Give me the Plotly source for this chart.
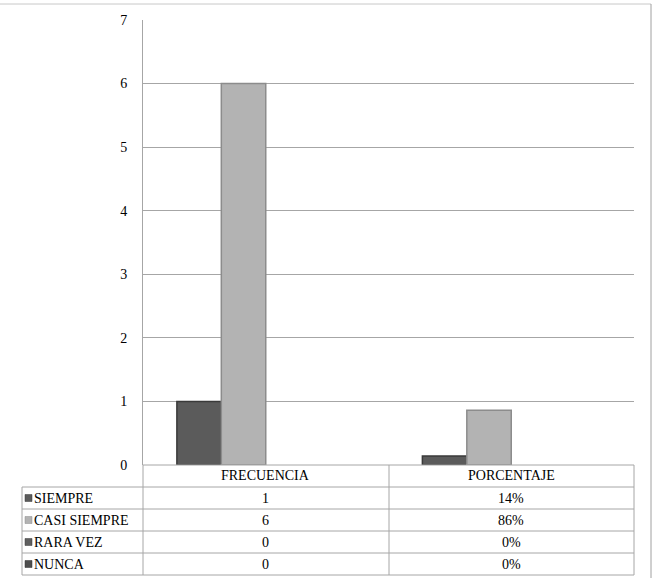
import plotly.graph_objects as go

categories = ["FRECUENCIA", "PORCENTAJE"]
series_names = ["SIEMPRE", "CASI SIEMPRE", "RARA VEZ", "NUNCA"]
frecuencia = [1, 6, 0, 0]
porcentaje = [0.14, 0.86, 0.0, 0.0]
table_frec = ["1", "6", "0", "0"]
table_pct = ["14%", "86%", "0%", "0%"]
y_ticks = [0, 1, 2, 3, 4, 5, 6, 7]

fill_colors = ["#5b5b5b", "#b3b3b3", "#5e5e5e", "#4d4d4d"]
edge_colors = ["#3a3a3a", "#8c8c8c", "#3a3a3a", "#333333"]

W, H = 655, 578
L, R, T, B = 143, 21, 20, 113
pw = W - L - R
ph = H - T - B

def px_x(x):
    return (x - L) / pw

def px_y(y):
    return (H - B - y) / ph

fig = go.Figure()
for i, name in enumerate(series_names):
    vals = [frecuencia[i], porcentaje[i]]
    fig.add_trace(go.Bar(
        x=categories,
        y=vals,
        name=name,
        marker=dict(color=fill_colors[i],
                    line=dict(color=edge_colors[i], width=[1.5 if v > 0 else 0 for v in vals])),
        showlegend=False,
    ))

FAM = "'Times New Roman', 'Liberation Serif', 'DejaVu Serif', serif"
font = dict(family=FAM, size=14, color="#000000")
shapes = []
annotations = []
grid_col = "#a6a6a6"

row_tops = [465, 487, 509, 531, 553, 575]
x_left, x_mid, x_right = 22, 389, 634
for k, yy in enumerate(row_tops):
    x0 = L if k == 0 else x_left
    shapes.append(dict(type="line", xref="paper", yref="paper",
                       x0=px_x(x0), x1=px_x(x_right), y0=px_y(yy), y1=px_y(yy),
                       line=dict(color=grid_col, width=1)))
shapes.append(dict(type="line", xref="paper", yref="paper",
                   x0=px_x(x_left), x1=px_x(x_left), y0=px_y(487), y1=px_y(575),
                   line=dict(color=grid_col, width=1)))
for xx in (L, x_mid, x_right):
    shapes.append(dict(type="line", xref="paper", yref="paper",
                       x0=px_x(xx), x1=px_x(xx), y0=px_y(465), y1=px_y(575),
                       line=dict(color=grid_col, width=1)))

for c in categories:
    annotations.append(dict(x=c, xref="x", y=px_y(476), yref="paper", text=c,
                            showarrow=False, font=font, xanchor="center", yanchor="middle"))

for i, name in enumerate(series_names):
    yc = (row_tops[i + 1] + row_tops[i + 2]) / 2
    shapes.append(dict(type="rect", xref="paper", yref="paper",
                       x0=px_x(25), x1=px_x(32), y0=px_y(yc - 3.5), y1=px_y(yc + 3.5),
                       fillcolor=fill_colors[i], line=dict(color=edge_colors[i], width=0.5)))
    annotations.append(dict(x=px_x(32), xref="paper", y=px_y(yc), yref="paper", text=name,
                            showarrow=False, font=font, xanchor="left", yanchor="middle"))
    annotations.append(dict(x=categories[0], xref="x", y=px_y(yc), yref="paper", text=table_frec[i],
                            showarrow=False, font=font, xanchor="center", yanchor="middle"))
    annotations.append(dict(x=categories[1], xref="x", y=px_y(yc), yref="paper", text=table_pct[i],
                            showarrow=False, font=font, xanchor="center", yanchor="middle"))

shapes.append(dict(type="line", xref="paper", yref="paper",
                   x0=px_x(0), x1=px_x(651), y0=px_y(4), y1=px_y(4),
                   line=dict(color="#c8c8c8", width=1)))
shapes.append(dict(type="line", xref="paper", yref="paper",
                   x0=px_x(651), x1=px_x(651), y0=px_y(4), y1=px_y(580),
                   line=dict(color="#a0a0a0", width=1)))

fig.update_layout(
    width=W, height=H,
    margin=dict(l=L, r=R, t=T, b=B),
    paper_bgcolor="white", plot_bgcolor="white",
    barmode="group", bargap=0.276, bargroupgap=0,
    shapes=shapes, annotations=annotations,
    font=font,
    xaxis=dict(showticklabels=False, showgrid=False, zeroline=False, showline=False,
               ticks="", fixedrange=True),
    yaxis=dict(range=[0, 7], tickvals=y_ticks, ticktext=[str(v) for v in y_ticks],
               showgrid=True, gridcolor=grid_col, gridwidth=1, zeroline=False,
               showline=True, linecolor=grid_col, linewidth=1, ticks="",
               ticklabelstandoff=12, tickfont=font),
)

fig.write_html("out.html")
